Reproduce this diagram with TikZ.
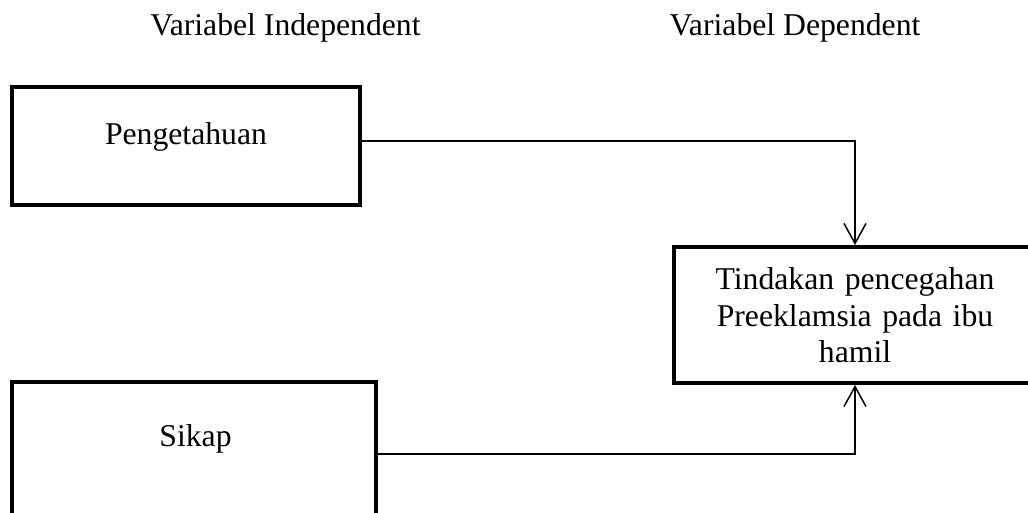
\documentclass[tikz,border=0pt]{standalone}
\usepackage{fontspec}
\setmainfont{Liberation Serif}
\usetikzlibrary{arrows.meta}
\begin{document}
\begin{tikzpicture}[x=0.5pt,y=-0.5pt,
  box/.style={draw, line width=2pt, minimum width=#1, inner sep=0pt},
  lbl/.style={font=\fontsize{15.85}{18.25}\selectfont, inner sep=0pt, align=center, anchor=base},
  conn/.style={line width=0.75pt, -{Straight Barb[length=10pt,width=11pt,line width=0.75pt]}}]
\useasboundingbox (0,0) rectangle (1028,513);
\begin{scope}
\clip (0,0) rectangle (1028,513);
\node[box=174pt, minimum height=59pt] (p) at (186,146) {};
\node[box=182pt, minimum height=69pt] (s) at (194,451) {};
\node[box=181pt, minimum height=68pt] (t) at (855,315) {};
\end{scope}
\node[lbl] (hi) at (285.5,36) {Variabel Independent};
\node[lbl] (hd) at (795,36) {Variabel Dependent};
\node[lbl] (pl) at (186,145) {Pengetahuan};
\node[lbl] (sl) at (195.5,446) {Sikap};
\node[lbl, text width=170pt] (tl) at (855,290) {Tindakan pencegahan\\Preeklamsia pada ibu\\hamil};
\coordinate (py) at (0,141);
\coordinate (sy) at (0,454);
\draw[conn] (p.east |- py) -| (t.north);
\draw[conn] (s.east |- sy) -| (t.south);
\end{tikzpicture}
\end{document}
